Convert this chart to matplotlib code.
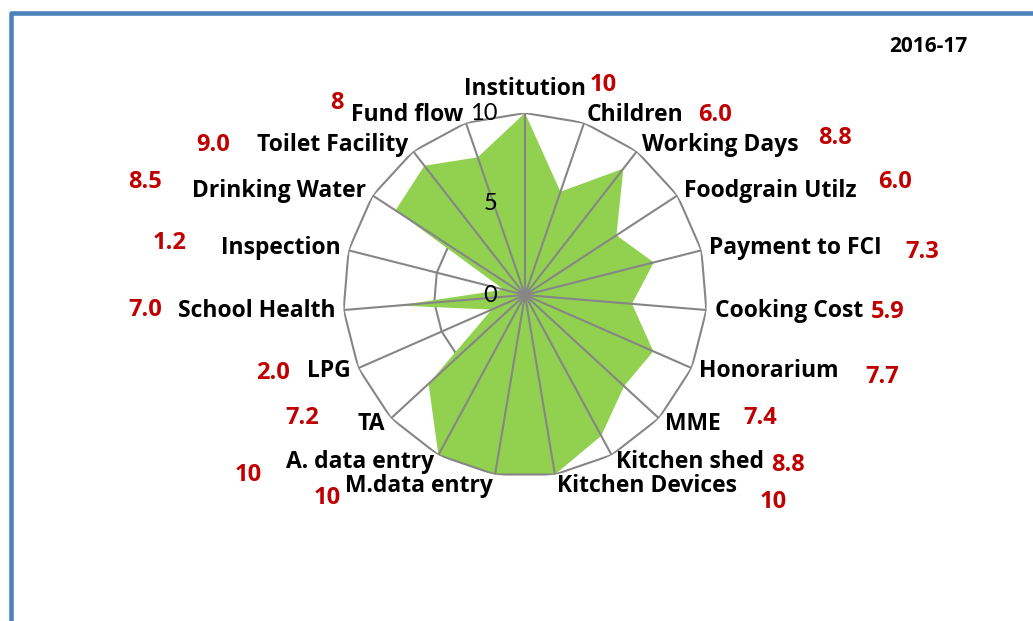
import matplotlib.pyplot as plt
import numpy as np
from matplotlib.lines import Line2D

categories = ['Institution', 'Children', 'Working Days', 'Foodgrain Utilz', 'Payment to FCI',
              'Cooking Cost', 'Honorarium', 'MME', 'Kitchen shed', 'Kitchen Devices',
              'M.data entry', 'A. data entry', 'TA', 'LPG', 'School Health', 'Inspection',
              'Drinking Water', 'Toilet Facility', 'Fund flow']
scores = [10, 6.0, 8.8, 6.0, 7.3, 5.9, 7.7, 7.4, 8.8, 10, 10, 10, 7.2, 2.0, 7.0, 1.2, 8.5, 9.0, 8]
score_text = ['10', '6.0', '8.8', '6.0', '7.3', '5.9', '7.7', '7.4', '8.8', '10',
              '10', '10', '7.2', '2.0', '7.0', '1.2', '8.5', '9.0', '8']
r_ticks = [0, 5, 10]
year = '2016-17'

# the red score boxes were placed by hand: pixel centres from the top-left corner
score_pos = [(603, 85), (715, 115), (835, 138), (895, 182), (922, 252), (888, 312),
             (882, 377), (760, 418), (788, 465), (773, 502), (327, 498), (248, 475),
             (302, 418), (273, 373), (145, 310), (170, 243), (145, 182), (213, 145), (337, 103)]

W, H = 1033, 621
cx, cy, R = 525, 295, 182
grey = '#868686'
bold_font = ['Open Sans', 'DejaVu Sans']
plt.rcParams['font.family'] = ['Lato', 'DejaVu Sans']

fig = plt.figure(figsize=(W / 100, H / 100), dpi=100)
ax = fig.add_axes([(cx - R) / W, (H - cy - R) / H, 2 * R / W, 2 * R / H], projection='polar')
ax.set_theta_zero_location('N')
ax.set_theta_direction(-1)
ax.set_ylim(0, 10)
ax.grid(False)
ax.spines['polar'].set_visible(False)
ax.set_xticks([])
ax.set_yticks([])
ax.set_facecolor('none')

n = len(categories)
theta = np.arange(n) * 2 * np.pi / n
closed = np.append(theta, theta[0])

# inner ring sits under the fill, outer ring and spokes on top
ax.plot(closed, [5] * (n + 1), color=grey, lw=1.5, zorder=1)
ax.fill(closed, scores + [scores[0]], color='#92D050', lw=0, zorder=2)
ax.plot(closed, [10] * (n + 1), color=grey, lw=1.5, zorder=3)
for t in theta:
    ax.plot([t, t], [0, 10], color=grey, lw=1.5, zorder=3)

for t, name in zip(theta, categories):
    deg = np.degrees(t)
    if deg == 0:
        ax.text(t, 10.65, name, ha='center', va='bottom', fontsize=16.5, fontweight='bold',
                family=bold_font, clip_on=False)
    else:
        r_lab = 10.62 if abs(deg - 180) < 15 else 10.45
        ax.text(t, r_lab, name, ha='left' if deg < 180 else 'right', va='center',
                fontsize=16.5, fontweight='bold', family=bold_font, clip_on=False)

for v in r_ticks:
    ax.annotate(str(v), xy=(0, v), xytext=(-20, 0), textcoords='offset points',
                ha='right', va='center', fontsize=17, zorder=5)

for (x, y), txt in zip(score_pos, score_text):
    fig.text(x / W, 1 - y / H, txt, color='#C00000', fontsize=17, fontweight='bold',
             family=bold_font, ha='center', va='center')

fig.text(928 / W, 1 - 46 / H, year, fontsize=15, fontweight='bold', family=bold_font,
         ha='center', va='center')

# blue frame on the top and left edges
ytop = 1 - 13 / H
xl = 10.5 / W
fig.add_artist(Line2D([1.01, xl, xl], [ytop, ytop, -0.01], transform=fig.transFigure,
                      color='#4F81BD', lw=3.3, solid_joinstyle='round'))

fig.savefig('out.png', dpi=100)
